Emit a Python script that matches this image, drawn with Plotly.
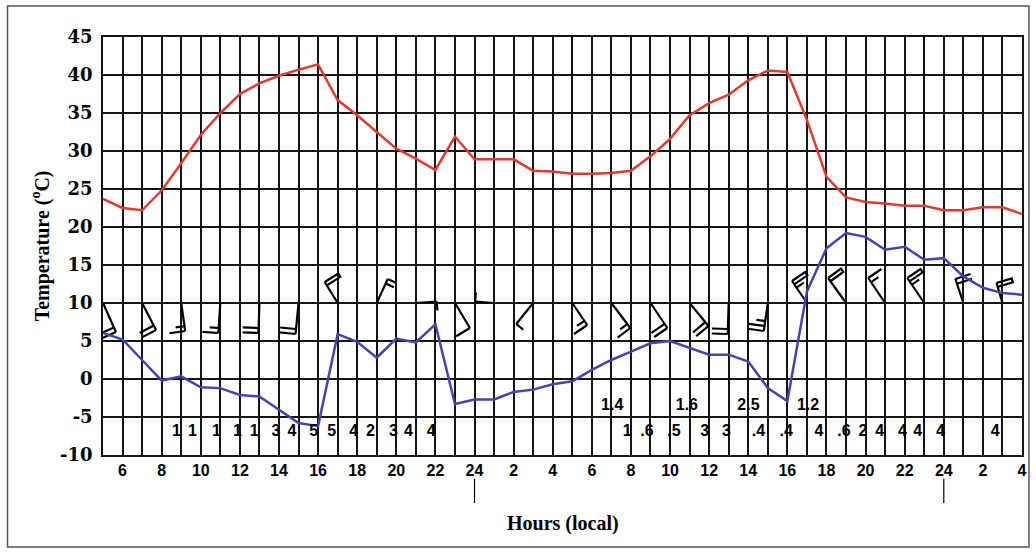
import math
import plotly.graph_objects as go

# Hourly observations, local time, running from 05 h on day 1 to 04 h on day 3
hours = list(range(5, 53))
air_temp = [23.7, 22.5, 22.2, 24.8, 28.4, 32.1, 35.0, 37.5, 38.9, 39.9, 40.7, 41.4,
            36.7, 34.7, 32.5, 30.3, 29.0, 27.5, 31.9, 28.9, 28.9, 28.9, 27.4, 27.3,
            27.0, 27.0, 27.1, 27.4, 29.3, 31.6, 34.7, 36.3, 37.4, 39.3, 40.6, 40.4,
            34.1, 26.6, 23.9, 23.3, 23.1, 22.8, 22.8, 22.2, 22.2, 22.6, 22.6, 21.7]
dew_point = [6.05, 5.2, 2.5, -0.2, 0.35, -1.1, -1.2, -2.1, -2.3, -4.0, -5.8, -6.2,
             5.9, 4.9, 2.8, 5.3, 4.8, 7.2, -3.3, -2.7, -2.7, -1.7, -1.4, -0.7,
             -0.3, 1.2, 2.5, 3.6, 4.7, 5.0, 4.1, 3.2, 3.2, 2.3, -1.2, -2.9,
             11.5, 17.2, 19.2, 18.7, 17.0, 17.4, 15.7, 15.9, 13.5, 12.0, 11.3, 11.1]

# Axis tick labels (clock hours, and temperatures with a plain hyphen for negatives)
tick_hours = list(range(6, 53, 2))
tick_text = [str(h if h <= 24 else (h - 24 if h <= 48 else h - 48)) for h in tick_hours]
midnight_hours = [24, 48]
temp_ticks = list(range(-10, 46, 5))
temp_tick_text = [str(v) for v in temp_ticks]

# Wind barbs: station hour, staff vector (px, screen axes), feathers, feather side
barb_hour = [5, 7, 9, 11, 13, 15, 17, 19, 21, 23, 25, 27, 29, 31, 33, 35, 37, 39,
             41, 43, 45, 47, 49, 51]
barb_dx = [13, 14, 4, -2, -1, -3, -13, 11, 21, 15, -19, -17, 15, 19, 17, 19, -1, -4,
           -15, -18, -17, -17, -8, -6]
barb_dy = [29, 27, 28, 30, 30, 31, -21, -24, -1.5, 25, -1.5, 21, 22, 25, 25, 23, 31, 28,
           -22, -25, -25, -25, -24, -20]
barb_code = ["FF", "FF", "FH", "FH", "FF", "FF", "P", "HH", "H", "F", "H", "H", "FH",
             "FH", "FF", "FF", "FF", "FFH", "PH", "P", "FH", "PH", "FF", "P"]
barb_side = [1, 1, 1, 1, 1, 1, 1, 1, 1, 1, 1, -1, 1, 1, 1, 1, 1, 1, 1, 1, 1, 1, 1, 1]
barb_level = 10

# Numbers printed along the bottom of the chart
row_a_x = [8.76, 9.58, 10.80, 11.87, 12.73, 13.85, 14.66, 15.78, 16.70, 17.82, 18.68,
           19.85, 20.62, 21.79, 31.81, 32.82, 34.20, 35.77, 36.89, 38.52, 39.94, 41.62,
           42.89, 43.86, 44.72, 45.89, 46.66, 47.83, 50.63]
row_a_text = ["1", "1", "1", "1", "1", "3", "4", "5", "5", "4", "2", "3", "4", "4",
              "1", ".6", ".5", "3", "3", ".4", ".4", "4", ".6", "2", "4", "4", "4", "4", "4"]
row_a_y = -7.0
row_b_x = [31.04, 34.86, 38.01, 41.06]
row_b_text = ["1.4", "1.6", "2.5", "1.2"]
row_b_y = -3.6

# Figure geometry
W, H = 1036, 553
M_L, M_R, M_T, M_B = 103, 9, 37, 98
X_RANGE = [5, 52]
Y_RANGE = [-10, 45]
plot_w = W - M_L - M_R
plot_h = H - M_T - M_B
px_per_hour = plot_w / (X_RANGE[1] - X_RANGE[0])
px_per_deg = plot_h / (Y_RANGE[1] - Y_RANGE[0])

GRID = "#141414"
RED = "#e4392b"
BLUE = "#4444b0"


def barb_path(h, dx, dy, code, side):
    """Line segments of one wind barb, in data coordinates."""
    length = math.hypot(dx, dy)
    ux, uy = dx / length, dy / length
    qx, qy = -uy * side, ux * side
    segs = [[(0, 0), (dx, dy)]]
    pos = length
    for c in code:
        ax, ay = ux * pos, uy * pos
        if c == "P":
            bx, by = ax - ux * 4, ay - uy * 4
            segs.append([(ax, ay), (ax + qx * 16, ay + qy * 16),
                         (bx + qx * 16, by + qy * 16), (bx, by)])
            pos -= 8
        else:
            flen = 16 if c == "F" else 9
            segs.append([(ax, ay), (ax + qx * flen, ay + qy * flen)])
            pos -= 5
    xs, ys = [], []
    for s in segs:
        for (sx, sy) in s:
            xs.append(h + sx / px_per_hour)
            ys.append(barb_level - sy / px_per_deg)
        xs.append(None)
        ys.append(None)
    return xs, ys


bx_all, by_all = [], []
for h, dx, dy, code, side in zip(barb_hour, barb_dx, barb_dy, barb_code, barb_side):
    xs, ys = barb_path(h, dx, dy, code, side)
    bx_all += xs
    by_all += ys

fig = go.Figure()

fig.add_trace(go.Scatter(x=bx_all, y=by_all, mode="lines",
                         line=dict(color="#000000", width=2.2), hoverinfo="skip",
                         showlegend=False))
fig.add_trace(go.Scatter(x=hours, y=air_temp, mode="lines",
                         line=dict(color=RED, width=2.5), showlegend=False))
fig.add_trace(go.Scatter(x=hours, y=dew_point, mode="lines",
                         line=dict(color=BLUE, width=2.5), showlegend=False))

label_font = dict(family="Liberation Sans", size=16, color="#000000", weight="bold")
fig.add_trace(go.Scatter(x=row_a_x, y=[row_a_y] * len(row_a_x), mode="text",
                         text=row_a_text, textfont=label_font, showlegend=False))
fig.add_trace(go.Scatter(x=row_b_x, y=[row_b_y] * len(row_b_x), mode="text",
                         text=row_b_text, textfont=label_font, showlegend=False))

fig.update_xaxes(range=X_RANGE, tickvals=tick_hours, ticktext=tick_text,
                 showgrid=True, gridcolor=GRID, gridwidth=1.5,
                 minor=dict(dtick=1, tick0=5, showgrid=True, gridcolor=GRID, gridwidth=1.5),
                 showline=True, mirror=True, linecolor=GRID, linewidth=1.5,
                 zeroline=False, ticks="", ticklabelstandoff=0,
                 tickfont=dict(family="Liberation Sans", size=16, color="#000000",
                               weight="bold"))
fig.update_yaxes(range=Y_RANGE, tickvals=temp_ticks, ticktext=temp_tick_text,
                 showgrid=True, gridcolor=GRID, gridwidth=1.5,
                 showline=True, mirror=True, linecolor=GRID, linewidth=1.5,
                 zeroline=False, ticks="", ticklabelstandoff=5,
                 tickfont=dict(family="DejaVu Serif", size=18, color="#000000",
                               weight="bold"))

shapes = []
# outer frame
shapes.append(dict(type="rect", xref="paper", yref="paper",
                   x0=(7 - M_L) / plot_w, x1=(1034 - M_L) / plot_w,
                   y0=(M_T + plot_h - 547) / plot_h, y1=(M_T + plot_h - 6) / plot_h,
                   line=dict(color="#555555", width=1.5), layer="below"))
# midnight markers below the hour labels
for mh in midnight_hours:
    xp = (mh - X_RANGE[0]) / (X_RANGE[1] - X_RANGE[0])
    shapes.append(dict(type="line", xref="paper", yref="paper",
                       x0=xp, x1=xp, y0=-0.057, y1=-0.115,
                       line=dict(color="#000000", width=1.2)))

annotations = [
    dict(text="Temperature (<sup>o</sup>C)", xref="paper", yref="paper",
         x=(40 - M_L) / plot_w, y=0.5, textangle=-90, showarrow=False,
         xanchor="center", yanchor="middle",
         font=dict(family="Liberation Serif", size=20, color="#000000", weight="bold")),
    dict(text="Hours (local)", xref="paper", yref="paper",
         x=0.5, y=(455 - 523) / plot_h, showarrow=False,
         xanchor="center", yanchor="middle",
         font=dict(family="Liberation Serif", size=20, color="#000000", weight="bold")),
]

fig.update_layout(width=W, height=H,
                  margin=dict(l=M_L, r=M_R, t=M_T, b=M_B),
                  paper_bgcolor="#ffffff", plot_bgcolor="#ffffff",
                  shapes=shapes, annotations=annotations, showlegend=False)

fig.write_html("out.html")
